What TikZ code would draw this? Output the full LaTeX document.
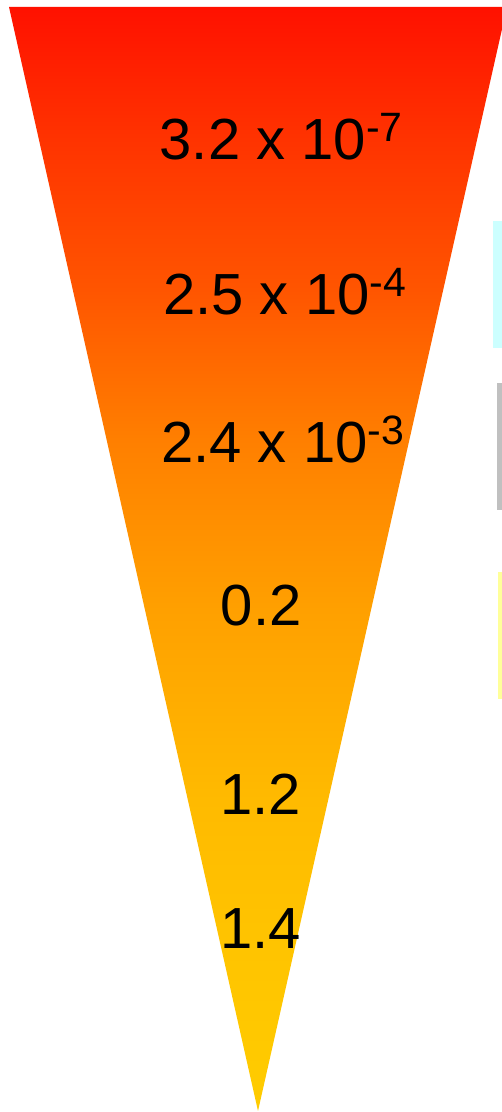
\documentclass[tikz,border=0pt]{standalone}
\usepackage{fontspec}
\setmainfont{Liberation Sans}
\definecolor{g1}{RGB}{255,204,0}
\definecolor{g2}{RGB}{255,195,0}
\definecolor{g3}{RGB}{255,186,0}
\definecolor{g4}{RGB}{255,160,0}
\definecolor{g5}{RGB}{255,127,0}
\definecolor{g6}{RGB}{255,85,0}
\definecolor{g7}{RGB}{255,51,0}
\definecolor{g8}{RGB}{255,17,0}
\definecolor{stripcyan}{RGB}{204,255,255}
\definecolor{stripgray}{RGB}{192,192,192}
\definecolor{stripyellow}{RGB}{255,255,153}
\pgfdeclareverticalshading{trishade}{100bp}{color(0bp)=(g1); color(25bp)=(g1); color(33.2bp)=(g2); color(39.1bp)=(g3); color(47.7bp)=(g4); color(55.4bp)=(g5); color(62.2bp)=(g6); color(69bp)=(g7); color(75bp)=(g8); color(100bp)=(g8)}
\tikzset{
  val/.style={anchor=base west, inner sep=0pt, font=\fontsize{58}{61}\selectfont},
}
\newcommand{\supx}[1]{\raisebox{18.5pt}{\fontsize{41}{41}\selectfont #1}}
\begin{document}
\begin{tikzpicture}[x=1pt,y=1pt]
\useasboundingbox (0,0) rectangle (502,1112);
\clip (0,0) rectangle (502,1112);
\shade[shading=trishade] (9,1105) -- (507,1105) -- (258,1) -- cycle;
\fill[stripcyan] (493,764) rectangle (502,891);
\fill[stripgray] (497,602) rectangle (502,729);
\fill[stripyellow] (498,413) rectangle (502,540);
\node[val] (v1) at (159.5,952) {3.2 x 10\supx{-7}};
\node[val] (v2) at (163,797) {2.5 x 10\supx{-4}};
\node[val] (v3) at (161,649) {2.4 x 10\supx{-3}};
\node[val] (v4) at (220.6,486) {0.2};
\node[val] (v5) at (220,297) {1.2};
\node[val] (v6) at (220,163) {1.4};
\end{tikzpicture}
\end{document}
